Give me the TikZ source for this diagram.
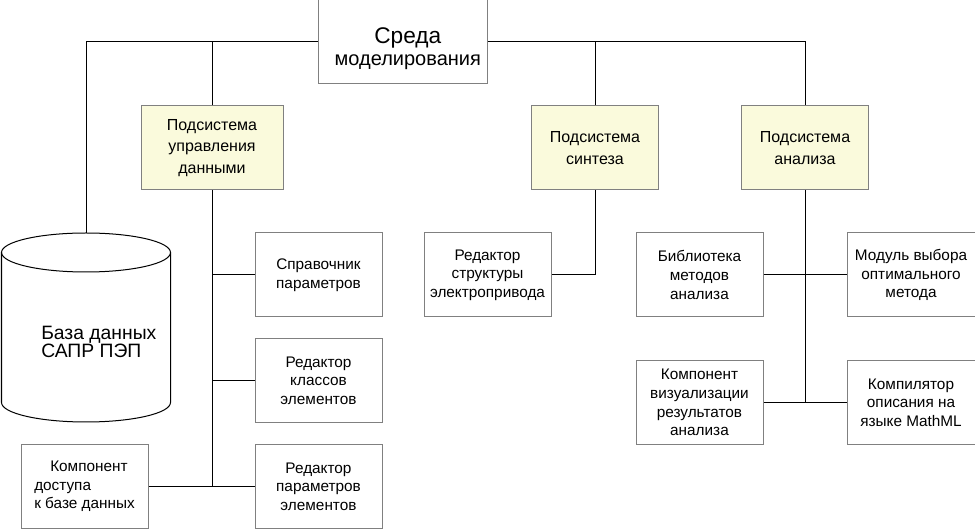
\documentclass[tikz,border=0pt]{standalone}
\usepackage{fontspec}
\setmainfont{Liberation Sans}
\definecolor{boxgray}{RGB}{128,128,128}
\definecolor{subfill}{RGB}{250,250,220}
\tikzset{
    blk/.style={draw=boxgray, line width=0.75, minimum width=95.25pt, minimum height=63pt, inner sep=0.75pt, align=center, font=\fontsize{11.5}{14}\selectfont},
    subsys/.style={blk, fill=subfill, font=\fontsize{12}{16}\selectfont},
    conn/.style={draw=black, line width=0.75},
}
\begin{document}
\begin{tikzpicture}[x=0.75pt,y=0.75pt,yscale=-1,xscale=1]
    \useasboundingbox (0,0) rectangle (975,530);

    % Environment
    \node [blk, minimum width=126.75pt, inner sep=0pt] (env) at (402.5,42) {\rule{0pt}{22pt}{\fontsize{17}{17}\selectfont \hspace*{8pt}Среда}\\[3pt]\hspace*{8pt}{\fontsize{15}{16}\selectfont моделирования}};

    % Subsystems
    \node [subsys, minimum width=106.5pt] (dm) at (212,148) {Подсистема\\управления\\данными};
    \node [subsys] (syn) at (595,148) {Подсистема\\синтеза};
    \node [subsys] (an) at (805,148) {Подсистема\\анализа};

    %Shape: Can
    \draw [line width=0.75] (86,252.5) ellipse (84.5 and 19.5);
    \draw [line width=0.75] (1.5,252.5) -- (1.5,402.5) arc (180:0:84.5 and 19.5) -- (170.5,252.5);
    \coordinate (db) at (86,233);
    \node [anchor=west, inner sep=0pt, align=left, font=\fontsize{14.5}{13.5}\selectfont] (dbl) at (41,342) {База данных\\САПР ПЭП};

    % Data management components
    \node [blk] (ref) at (318.5,275) {Справочник\\параметров};
    \node [blk] (cls) at (318.5,380.5) {Редактор\\классов\\элементов};
    \node [blk] (ped) at (318.5,486.5) {Редактор\\параметров\\элементов};
    \node [blk, align=left] (acc) at (84.5,486.5) {\hspace*{12pt}Компонент\\доступа\\к базе данных};

    % Synthesis components
    \node [blk] (str) at (487.5,275) {Редактор\\структуры\\электропривода};

    % Analysis components
    \node [blk] (lib) at (699.5,275) {Библиотека\\методов\\анализа};
    \node [blk, minimum width=96pt] (opt) at (911,275) {Модуль выбора\\оптимального\\метода};
    \node [blk] (vis) at (699.5,402.5) {Компонент\\визуализации\\результатов\\анализа};
    \node [blk, minimum width=96pt] (mml) at (911,402.5) {Компилятор\\описания на\\языке MathML};

    % Connectors
    \draw [conn] (env.west) -| (db);
    \draw [conn] (dm.north) |- (env.west);
    \draw [conn] (env.east) -| (an.north);
    \draw [conn] (syn.north) |- (env.east);

    \draw [conn] (dm.south) -- (dm.south |- acc.east);
    \draw [conn] (ref.west) -- (ref.west -| dm.south);
    \draw [conn] (cls.west) -- (cls.west -| dm.south);
    \draw [conn] (acc.east) -- (ped.west);

    \draw [conn] (syn.south) |- (str.east);

    \draw [conn] (an.south) -- (an.south |- vis.east);
    \draw [conn] (lib.east) -- (opt.west);
    \draw [conn] (vis.east) -- (mml.west);

\end{tikzpicture}
\end{document}
